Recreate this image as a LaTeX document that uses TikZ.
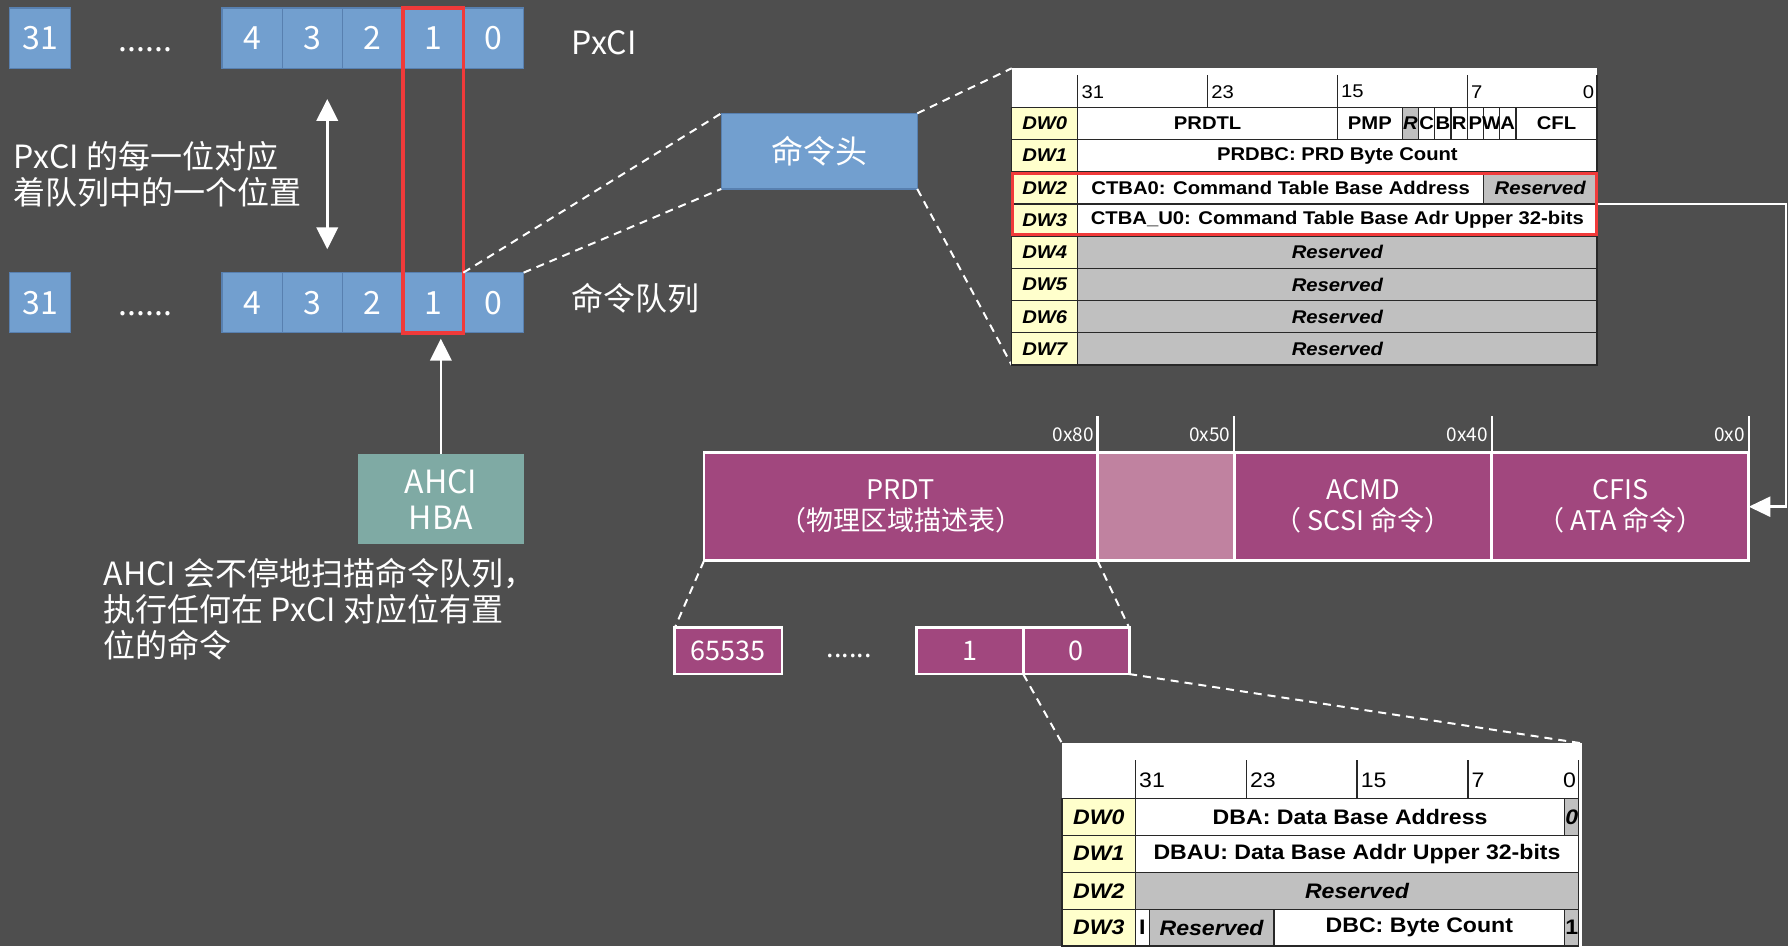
\documentclass[tikz,border=0pt]{standalone}
\usepackage{fontspec}
\setmainfont{Noto Sans CJK SC}
\newfontfamily\tblfont[FakeStretch=1.1]{Liberation Sans}
\usetikzlibrary{arrows.meta,fit}
\definecolor{bgc}{RGB}{78,78,78}
\definecolor{bitblue}{RGB}{114,159,207}
\definecolor{bitedge}{RGB}{88,128,176}
\definecolor{hbateal}{RGB}{127,170,164}
\definecolor{cmdpurple}{RGB}{161,71,126}
\definecolor{cmdlight}{RGB}{192,130,160}
\definecolor{selred}{RGB}{240,58,58}
\definecolor{labyel}{RGB}{255,255,204}
\definecolor{resgray}{RGB}{192,192,192}
\definecolor{tline}{RGB}{40,40,40}
\newcounter{cellno}
\newcommand\tcell[7]{%
  \path[#5] (#1,#2) rectangle (#3,#4);%
  \stepcounter{cellno}%
  \node[#6] (cell\arabic{cellno}) at ({(#1+#3)/2},{(#2+#4)/2}) {#7};}
\begin{document}
\begin{tikzpicture}[x=0.57pt,y=-0.57pt,
  every node/.style={inner sep=0pt, outer sep=0pt},
  boxat/.style n args={4}{at={({(#1+#3)/2},{(#2+#4)/2})}, minimum width={(#3-#1)*0.57pt}, minimum height={(#4-#2)*0.57pt}},
  big/.style={font=\fontsize{16}{17.8}\selectfont, text=white},
  bitbox/.style={draw=bitedge, line width=0.6pt, fill=bitblue, big},
  selbox/.style={draw=selred, line width=1.8pt},
  selboxb/.style={draw=selred, line width=1.5pt},
  hbabox/.style={fill=hbateal, text=white, align=center, font=\fontsize{16}{18}\selectfont},
  dashcon/.style={white, line width=1pt, dash pattern=on 4pt off 3pt},
  dbl/.style={white, line width=1.3pt, arrows={Triangle[width=10.7pt,length=11pt]-Triangle[width=10.7pt,length=11pt]}},
  uparr/.style={white, line width=1.3pt, arrows={-Triangle[width=10.7pt,length=11pt]}},
  feed/.style={white, line width=1.3pt, arrows={-Triangle[width=10pt,length=10.8pt]}},
  sec/.style={draw=white, line width=1.4pt, fill=cmdpurple, text=white, align=center, font=\fontsize{13.5}{15.5}\selectfont},
  prd/.style={draw=white, line width=1.4pt, fill=cmdpurple, text=white, font=\fontsize{13.5}{15.5}\selectfont},
  tick/.style={white, line width=1.3pt},
  hexlbl/.style={text=white, font=\fontsize{9.5}{11}\selectfont},
  tabbg/.style={fill=white},
  lab/.style={fill=labyel, draw=tline, line width=0.65pt},
  wcell/.style={fill=white, draw=tline, line width=0.65pt},
  gcell/.style={fill=resgray, draw=tline, line width=0.65pt},
  tl/.style={tline, line width=0.65pt},
  ta1/.style={text=black, font=\tblfont\bfseries\fontsize{9.2}{10}\selectfont},
  ta1i/.style={text=black, font=\tblfont\bfseries\itshape\fontsize{9.2}{10}\selectfont},
  th1/.style={text=black, font=\tblfont\fontsize{9.2}{10}\selectfont},
  ta2/.style={text=black, font=\tblfont\bfseries\fontsize{10.5}{12}\selectfont},
  ta2i/.style={text=black, font=\tblfont\bfseries\itshape\fontsize{10.5}{12}\selectfont},
  th2/.style={text=black, font=\tblfont\fontsize{10.5}{12}\selectfont}]
\useasboundingbox (0,0) rectangle (1568,830);
\fill[bgc] (0,0) rectangle (1568,830);

% ---- PxCI row
\node[bitbox, boxat={8.6}{7}{61.8}{59.9}] (t31) {31};
\node[big] (tdots) at (127.6,43.5) {......};
\node[bitbox, boxat={194.6}{7}{247.5}{59.9}] (t4) {4};
\node[bitbox, boxat={247.5}{7}{300.4}{59.9}] (t3) {3};
\node[bitbox, boxat={300.4}{7}{353.4}{59.9}] (t2) {2};
\node[bitbox, boxat={353.4}{7}{406.3}{59.9}] (t1) {1};
\node[bitbox, boxat={406.3}{7}{459.2}{59.9}] (t0) {0};
\node[big, anchor=west] (pxci) at (501,37.4) {PxCI};

% ---- command queue row
\node[bitbox, boxat={8.6}{239.1}{61.8}{291.8}] (b31) {31};
\node[big] (bdots) at (127.6,274.8) {......};
\node[bitbox, boxat={194.6}{239.1}{247.5}{291.8}] (b4) {4};
\node[bitbox, boxat={247.5}{239.1}{300.4}{291.8}] (b3) {3};
\node[bitbox, boxat={300.4}{239.1}{353.4}{291.8}] (b2) {2};
\node[bitbox, boxat={353.4}{239.1}{406.3}{291.8}] (b1) {1};
\node[bitbox, boxat={406.3}{239.1}{459.2}{291.8}] (b0) {0};
\node[big, anchor=west] (cq) at (501.5,261.4) {命令队列};

\node[selbox, fit=(t1)(b1)] (sel) {};

% ---- double arrow and note
\coordinate (dtop) at (287,86.8);
\coordinate (dbot) at (287,218.6);
\draw[dbl] (dtop) -- (dbot);
\node[big, anchor=west, align=left] (note1) at (12,152.7) {PxCI 的每一位对应\\着队列中的一个位置};

% ---- AHCI HBA
\node[hbabox, boxat={314}{398.2}{459.2}{477.4}] (hba) {AHCI\\HBA};
\coordinate (hbatip) at (386.6,297);
\draw[uparr] (hba.north) -- (hbatip);
\node[big, anchor=west, align=left, font=\fontsize{16}{17.9}\selectfont] (note2) at (91,534.2) {AHCI 会不停地扫描命令队列，\\执行任何在 PxCI 对应位有置\\位的命令};

% ---- command header
\node[bitbox, boxat={632.5}{99.4}{804.4}{165.7}] (hdr) {命令头};
\draw[dashcon] (b1.north east) -- (hdr.north west);
\draw[dashcon] (b0.north east) -- (hdr.south west);

% ---- table 1
\node[tabbg, boxat={887.2}{59.9}{1400.5}{320.1}] (tab1) {};
\draw[dashcon] (hdr.north east) -- (tab1.north west);
\draw[dashcon] (hdr.south east) -- (tab1.south west);
\foreach \i in {0,...,7}{
  \pgfmathsetmacro\ya{94.1+\i*28.25}
  \pgfmathsetmacro\yb{94.1+(\i+1)*28.25}
  \tcell{887.2}{\ya}{945.2}{\yb}{lab}{ta1i}{DW\i}
}
\tcell{945.2}{94.1}{1172.85}{122.35}{wcell}{ta1}{PRDTL}
\tcell{1172.85}{94.1}{1229.76}{122.35}{wcell}{ta1}{PMP}
\tcell{1229.76}{94.1}{1243.99}{122.35}{gcell}{ta1i}{R}
\tcell{1243.99}{94.1}{1258.22}{122.35}{wcell}{ta1}{C}
\tcell{1258.22}{94.1}{1272.45}{122.35}{wcell}{ta1}{B}
\tcell{1272.45}{94.1}{1286.67}{122.35}{wcell}{ta1}{R}
\tcell{1286.67}{94.1}{1300.9}{122.35}{wcell}{ta1}{P}
\tcell{1300.9}{94.1}{1315.13}{122.35}{wcell}{ta1}{W}
\tcell{1315.13}{94.1}{1329.36}{122.35}{wcell}{ta1}{A}
\tcell{1329.36}{94.1}{1400.5}{122.35}{wcell}{ta1}{CFL}
\tcell{945.2}{122.35}{1400.5}{150.6}{wcell}{ta1}{PRDBC: PRD Byte Count}
\tcell{945.2}{150.6}{1300.9}{178.85}{wcell}{ta1}{CTBA0: Command Table Base Address}
\tcell{1300.9}{150.6}{1400.5}{178.85}{gcell}{ta1i}{Reserved}
\tcell{945.2}{178.85}{1400.5}{207.1}{wcell}{ta1}{CTBA\_U0: Command Table Base Adr Upper 32-bits}
\foreach \i in {4,...,7}{
  \pgfmathsetmacro\ya{94.1+\i*28.25}
  \pgfmathsetmacro\yb{94.1+(\i+1)*28.25}
  \tcell{945.2}{\ya}{1400.5}{\yb}{gcell}{ta1i}{Reserved}
}
\foreach \xx in {945.2,1059.02,1172.85,1286.67,1400.5} \draw[tl] (\xx,65.8) -- (\xx,94.1);
\node[th1, anchor=west] (h1a) at (948.5,80.4) {31};
\node[th1, anchor=west] (h1b) at (1062.3,80.4) {23};
\node[th1, anchor=west] (h1c) at (1176.1,80.4) {15};
\node[th1, anchor=west] (h1d) at (1290,80.4) {7};
\node[th1, anchor=east] (h1e) at (1398,80.4) {0};
\node[selboxb, boxat={888.3}{151.8}{1400.2}{205.8}] (sel2) {};

% ---- command table
\node[sec, boxat={617.4}{397}{962.5}{491.7}] (prdt) {PRDT\\（物理区域描述表）};
\node[sec, fill=cmdlight, boxat={962.5}{397}{1082.3}{491.7}] (gap) {};
\node[sec, boxat={1082.3}{397}{1308.3}{491.7}] (acmd) {ACMD\\（ SCSI 命令）};
\node[sec, boxat={1308.3}{397}{1533.6}{491.7}] (cfis) {CFIS\\（ ATA 命令）};
\draw[tick] (prdt.north east) -- ++(0,-32.2);
\draw[tick] (gap.north east) -- ++(0,-32.2);
\draw[tick] (acmd.north east) -- ++(0,-32.2);
\draw[tick] (cfis.north east) -- ++(0,-32.2);
\node[hexlbl, anchor=east] (x80) at (959,380.9) {0x80};
\node[hexlbl, anchor=east] (x50) at (1078.8,380.9) {0x50};
\node[hexlbl, anchor=east] (x40) at (1304.8,380.9) {0x40};
\node[hexlbl, anchor=east] (x0) at (1530.1,380.9) {0x0};

\coordinate (t1out) at (1401.2,178.85);
\draw[feed] (t1out) -- ++(165.1,0) |- (cfis.east);

% ---- PRD entries
\node[prd, boxat={591.8}{550.4}{685.8}{591.1}] (p65535) {65535};
\node[text=white, font=\fontsize{13.5}{15.5}\selectfont] (pdots) at (744.6,575.3) {......};
\node[prd, boxat={804}{550.4}{897.3}{591.1}] (p1) {1};
\node[prd, boxat={897.3}{550.4}{990.2}{591.1}] (p0) {0};
\draw[dashcon] (prdt.south west) -- (p65535.north west);
\draw[dashcon] (prdt.south east) -- (p0.north east);

% ---- table 2
\node[tabbg, boxat={931.4}{651.9}{1387.4}{835}] (tab2) {};
\draw[dashcon] (p1.south east) -- (tab2.north west);
\draw[dashcon] (p0.south east) -- (tab2.north east);
\foreach \i in {0,...,3}{
  \pgfmathsetmacro\ya{700.1+\i*32.4}
  \pgfmathsetmacro\yb{700.1+(\i+1)*32.4}
  \tcell{931.4}{\ya}{995.7}{\yb}{lab}{ta2i}{DW\i}
}
\tcell{995.7}{700.1}{1372.26}{732.5}{wcell}{ta2}{DBA: Data Base Address}
\tcell{1372.26}{700.1}{1384.4}{732.5}{gcell}{ta2i}{0}
\tcell{995.7}{732.5}{1384.4}{764.9}{wcell}{ta2}{DBAU: Data Base Addr Upper 32-bits}
\tcell{995.7}{764.9}{1384.4}{797.3}{gcell}{ta2i}{Reserved}
\tcell{995.7}{797.3}{1007.85}{829.7}{wcell}{ta2}{I}
\tcell{1007.85}{797.3}{1117.17}{829.7}{gcell}{ta2i}{Reserved}
\tcell{1117.17}{797.3}{1372.26}{829.7}{wcell}{ta2}{DBC: Byte Count}
\tcell{1372.26}{797.3}{1384.4}{829.7}{gcell}{ta2}{1}
\foreach \xx in {995.7,1092.88,1190.05,1287.23,1384.4} \draw[tl] (\xx,666.5) -- (\xx,700.1);
\node[th2, anchor=west] (h2a) at (999,684) {31};
\node[th2, anchor=west] (h2b) at (1096.2,684) {23};
\node[th2, anchor=west] (h2c) at (1193.4,684) {15};
\node[th2, anchor=west] (h2d) at (1290.5,684) {7};
\node[th2, anchor=east] (h2e) at (1382,684) {0};
\end{tikzpicture}
\end{document}
